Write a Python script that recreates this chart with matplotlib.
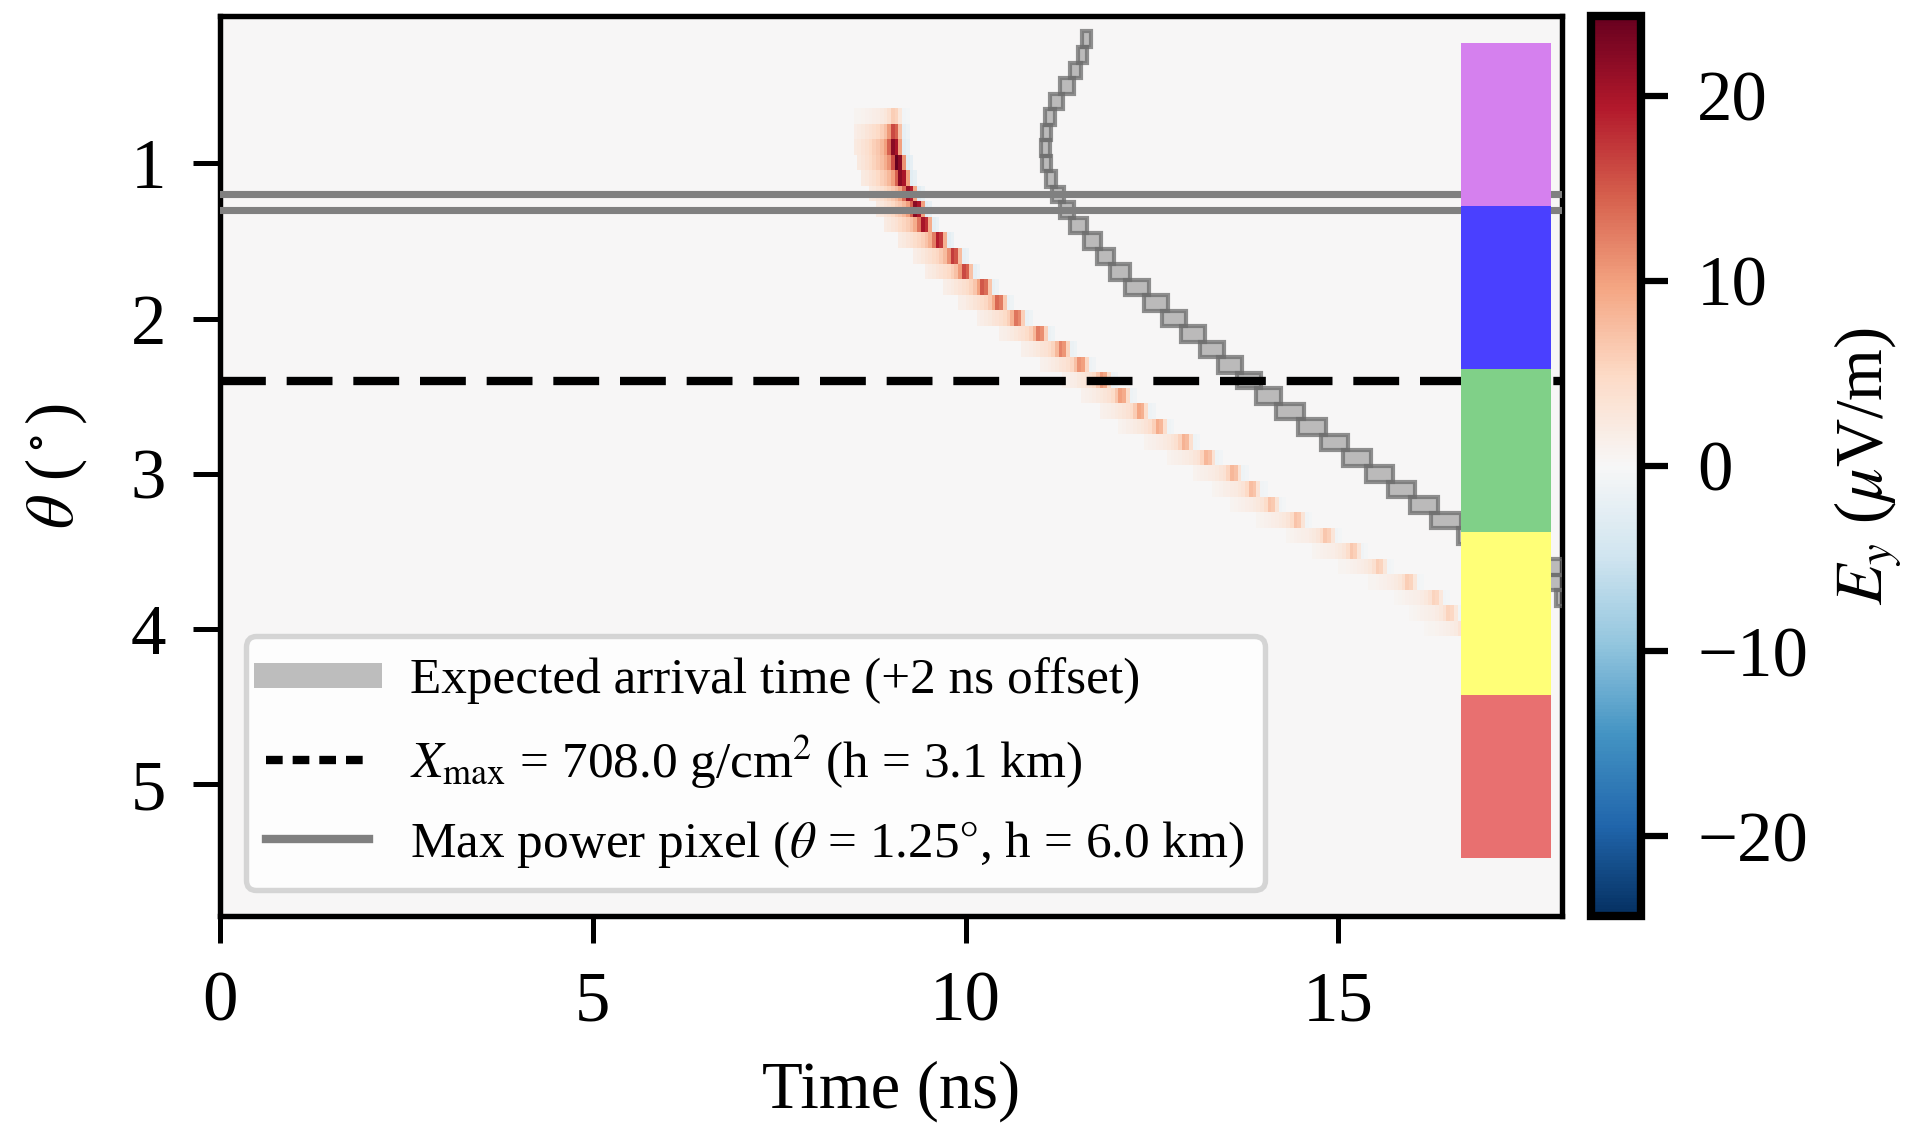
import numpy as np
import matplotlib
matplotlib.use("Agg")
import matplotlib.pyplot as plt
from matplotlib.lines import Line2D

plt.rcParams['font.family'] = ['Liberation Serif', 'DejaVu Serif']
plt.rcParams['mathtext.fontset'] = 'stix'

# grid of the image (theta rows 0.1 deg, time bins 0.05 ns)
t_max = 18.0
dt = 0.05
theta_edges = (0.05, 5.85)
n_rows = 58
n_cols = 360

# signal track: theta row -> peak time (ns), amplitude (uV/m)
track_theta = [0.7, 0.8, 0.9, 1.0, 1.1, 1.2, 1.3, 1.4, 1.5, 1.6, 1.7, 1.8, 1.9, 2.0,
               2.1, 2.2, 2.3, 2.4, 2.5, 2.6, 2.7, 2.8, 2.9, 3.0, 3.1, 3.2, 3.3, 3.4,
               3.5, 3.6, 3.7, 3.8, 3.9, 4.0]
track_time = [9.0, 9.0, 9.02, 9.06, 9.11, 9.18, 9.28, 9.42, 9.62, 9.78, 9.97, 10.18,
              10.4, 10.65, 10.96, 11.24, 11.5, 11.8, 12.05, 12.3, 12.55, 12.88, 13.2,
              13.55, 13.82, 14.07, 14.38, 14.8, 15.15, 15.5, 15.9, 16.25, 16.45, 16.65]
track_amp = [6, 16, 22, 24.3, 22, 21, 22, 20, 19, 17, 16, 15, 14, 13, 12.5, 12, 11, 10.5,
             10, 9.5, 9, 8.5, 8, 8, 7.5, 7, 7, 6.5, 6.5, 6, 6, 5.5, 5.5, 5]
# pulse shape across time bins (offset in bins, relative weight)
pulse_offset = [-10, -9, -8, -7, -6, -5, -4, -3, -2, -1, 0, 1, 2, 3, 4]
pulse_weight = [0.1, 0.12, 0.15, 0.18, 0.22, 0.26, 0.3, 0.36, 0.45, 0.65, 1.0, 0.9,
                0.45, -0.12, -0.08]

# expected arrival time (+2 ns offset): box centre and width per theta row
exp_theta = [0.2, 0.3, 0.4, 0.5, 0.6, 0.7, 0.8, 0.9, 1.0, 1.1, 1.2, 1.3, 1.4, 1.5, 1.6,
             1.7, 1.8, 1.9, 2.0, 2.1, 2.2, 2.3, 2.4, 2.5, 2.6, 2.7, 2.8, 2.9, 3.0, 3.1,
             3.2, 3.3, 3.4, 3.5, 3.6, 3.7, 3.8]
exp_time = [11.62, 11.57, 11.48, 11.36, 11.22, 11.13, 11.08, 11.07, 11.09, 11.15, 11.24,
            11.36, 11.52, 11.7, 11.88, 12.07, 12.3, 12.55, 12.8, 13.05, 13.3, 13.55,
            13.8, 14.06, 14.35, 14.65, 14.95, 15.25, 15.55, 15.85, 16.15, 16.45, 16.85,
            17.3, 17.75, 17.97, 18.1]
exp_width = [0.12, 0.12, 0.15, 0.18, 0.17, 0.13, 0.12, 0.12, 0.12, 0.13, 0.15, 0.18, 0.23,
             0.23, 0.23, 0.27, 0.32, 0.32, 0.32, 0.32, 0.32, 0.32, 0.32, 0.34, 0.37, 0.37,
             0.37, 0.37, 0.37, 0.37, 0.37, 0.4, 0.48, 0.52, 0.52, 0.36, 0.36]

xmax_theta = 2.4
maxpix_edges = [1.2, 1.3]

# antenna colour blocks
block_t0, block_t1 = 16.65, 17.85
block_edges = [0.225, 1.275, 2.325, 3.375, 4.425, 5.475]
block_colors = ['#d580ee', '#4a40ff', '#80d088', '#ffff77', '#e87070']

vlim = 24.3

# build image
img = np.zeros((n_rows, n_cols))
for th, t, a in zip(track_theta, track_time, track_amp):
    r = int(round((th - theta_edges[0]) / 0.1 - 0.5))
    c = int(round(t / dt))
    for o, w in zip(pulse_offset, pulse_weight):
        if 0 <= c + o < n_cols:
            img[r, c + o] = a * w

fig = plt.figure(figsize=(1909 / 300, 1123 / 300), dpi=300)
ax = fig.add_axes([0.1153, 0.1843, 0.7029, 0.8015])
cax = fig.add_axes([0.8334, 0.1843, 0.0262, 0.8015])

im = ax.imshow(img, cmap='RdBu_r', vmin=-vlim, vmax=vlim, aspect='auto',
               extent=[0, t_max, theta_edges[1], theta_edges[0]], interpolation='nearest')

# expected arrival boxes
ax.barh(exp_theta, exp_width, height=0.1, left=np.array(exp_time) - np.array(exp_width) / 2,
        color=(0.5, 0.5, 0.5, 0.5), edgecolor=(0.42, 0.42, 0.42, 0.75), lw=1.0, zorder=3)

for y in maxpix_edges:
    ax.axhline(y, color='#808080', lw=1.7, zorder=4)
ax.axhline(xmax_theta, color='black', lw=2.0, dashes=(5.5, 2.5), zorder=4)

for i, col in enumerate(block_colors):
    ax.fill_between([block_t0, block_t1], block_edges[i], block_edges[i + 1],
                    color=col, lw=0, zorder=5)

ax.set_xlim(0, t_max)
ax.set_ylim(theta_edges[1], theta_edges[0])
ax.set_xticks([0, 5, 10, 15])
ax.set_yticks([1, 2, 3, 4, 5])
ax.tick_params(labelsize=17, length=6.5, width=1.2, pad=6.5)
for s in ax.spines.values():
    s.set_linewidth(1.3)
ax.set_xlabel('Time (ns)', fontsize=16, labelpad=6)
ax.set_ylabel(r'$\theta$ ($^\circ$)', fontsize=16, labelpad=10)

cb = fig.colorbar(im, cax=cax)
cb.set_ticks([-20, -10, 0, 10, 20])
cb.outline.set_linewidth(2.0)
cax.tick_params(labelsize=17, length=6.5, width=1.5, pad=7)
cb.set_label(r'$E_y$ ($\mu$V/m)', fontsize=16, labelpad=6)

handles = [
    Line2D([], [], color='#bdbdbd', lw=6),
    Line2D([], [], color='black', lw=2.0, dashes=(2.0, 1.2)),
    Line2D([], [], color='#808080', lw=2.0),
]
labels = [
    'Expected arrival time (+2 ns offset)',
    r'$X_\mathrm{max}$ = 708.0 g/cm$^2$ (h = 3.1 km)',
    r'Max power pixel ($\theta$ = 1.25$\degree$, h = 6.0 km)',
]
leg = ax.legend(handles, labels, loc='lower left', fontsize=12.3, framealpha=0.8,
                edgecolor='#cccccc', fancybox=True, labelspacing=0.55)
leg.get_frame().set_linewidth(1.3)
leg.set_zorder(6)

fig.savefig('out.png', dpi=300)
